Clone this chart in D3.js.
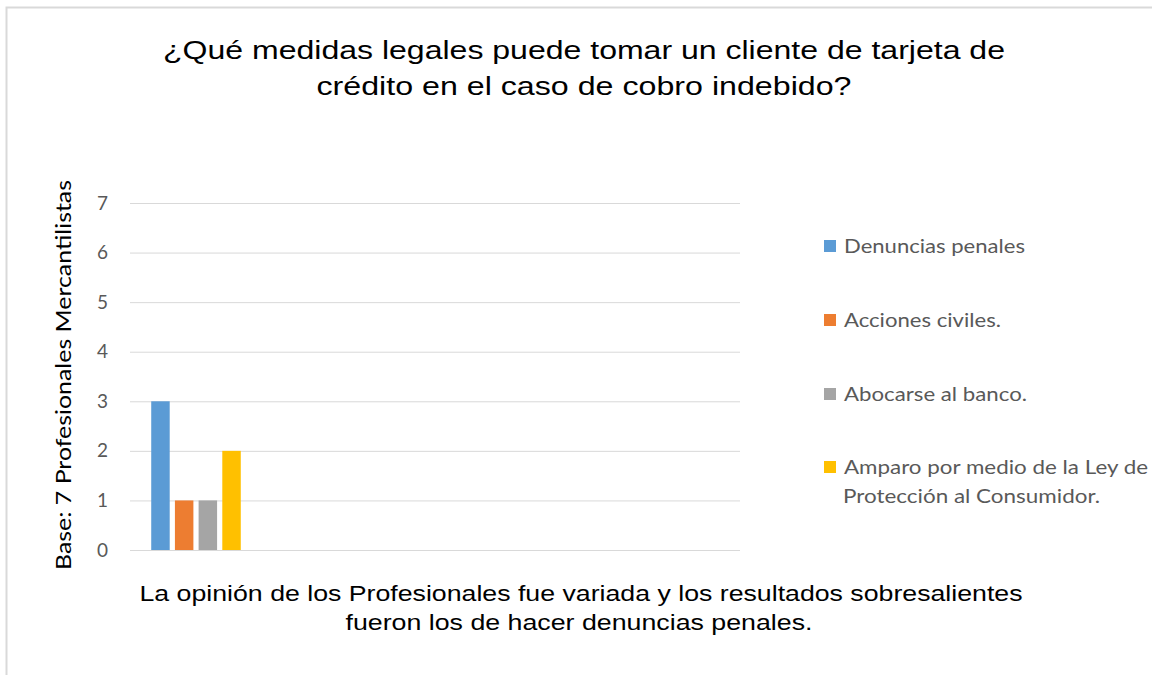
<!DOCTYPE html>
<html>
<head>
<meta charset="utf-8">
<script src="https://cdn.jsdelivr.net/npm/d3@7"></script>
<style>
  body { margin: 0; background: #fff; }
</style>
</head>
<body>
<div class="canvas"></div>
<script>
// data
const categories = ["Profesionales"];
const series = [
  "Denuncias penales",
  "Acciones civiles.",
  "Abocarse al banco.",
  "Amparo por medio de la Ley de Protección al Consumidor."
];
const values = [3, 1, 1, 2];
const yTicks = [0, 1, 2, 3, 4, 5, 6, 7];
const colors = ["#5b9bd5", "#ed7d31", "#a5a5a5", "#ffc000"];

// dimensions
const w = 1152;
const h = 675;
const plot = { left: 130, right: 740, top: 203, bottom: 550 };

const svg = d3.select(".canvas").append("svg").attr("width", w).attr("height", h);

// the source picture is stretched sideways, so text is fitted to measured widths
const fit = (sel, len) => sel.attr("textLength", len).attr("lengthAdjust", "spacingAndGlyphs");

// chart frame
svg.append("rect")
  .attr("x", 6.5).attr("y", 7.5)
  .attr("width", w + 10).attr("height", h)
  .attr("fill", "#fff")
  .attr("stroke", "#d9d9d9")
  .attr("stroke-width", 2);

// title
const title = svg.append("text")
  .attr("text-anchor", "middle")
  .style("font-family", "'Liberation Sans', Arial, sans-serif")
  .style("font-size", "25px")
  .attr("fill", "#000");
title.append("tspan").attr("x", 584).attr("y", 59).text("¿Qué medidas legales puede tomar un cliente de tarjeta de").call(fit, 842);
title.append("tspan").attr("x", 584).attr("y", 95).text("crédito en el caso de cobro indebido?").call(fit, 535);

// scales
const y = d3.scaleLinear().domain([0, 7]).range([plot.bottom, plot.top]);
const x0 = d3.scaleBand().domain(categories).range([plot.left, plot.left + 132]).paddingOuter(0.2);
const x1 = d3.scaleBand().domain(series).range([0, x0.bandwidth()]).paddingInner(0.22).paddingOuter(0.1);

// gridlines + tick labels
const yAxis = d3.axisLeft(y)
  .tickValues(yTicks)
  .tickFormat(d3.format("d"))
  .tickSize(-(plot.right - plot.left))
  .tickPadding(22);
const gy = svg.append("g")
  .attr("transform", `translate(${plot.left},0)`)
  .call(yAxis);
gy.select(".domain").remove();
gy.selectAll(".tick line").attr("stroke", "#d9d9d9").attr("stroke-width", 1);
gy.selectAll(".tick text")
  .attr("fill", "#595959")
  .style("font-family", "Lato, 'Open Sans', sans-serif")
  .style("font-size", "19px");

// bars
svg.append("g")
  .selectAll("rect")
  .data(series.map((s, i) => ({ s, v: values[i], c: colors[i] })))
  .enter()
  .append("rect")
  .attr("x", (d) => x0(categories[0]) + x1(d.s))
  .attr("y", (d) => y(d.v))
  .attr("width", x1.bandwidth())
  .attr("height", (d) => y(0) - y(d.v))
  .attr("fill", (d) => d.c);

// y axis title
svg.append("text")
  .attr("transform", `translate(71, ${(180 + 570) / 2}) rotate(-90)`)
  .attr("text-anchor", "middle")
  .style("font-family", "Lato, 'Open Sans', sans-serif")
  .style("font-size", "21px")
  .attr("fill", "#000")
  .text("Base: 7 Profesionales Mercantilistas")
  .call(fit, 390);

// legend
const legendY = [246, 320, 394, 467];
const legendW = [181, 157, 183, 304];
const legend = svg.append("g")
  .selectAll("g")
  .data(series)
  .enter()
  .append("g")
  .attr("transform", (d, i) => `translate(824, ${legendY[i]})`);
legend.append("rect")
  .attr("x", 0).attr("y", -6)
  .attr("width", 12).attr("height", 12)
  .attr("fill", (d, i) => colors[i]);
const lt = legend.append("text")
  .attr("x", 20).attr("y", 7)
  .style("font-family", "Lato, 'Open Sans', sans-serif")
  .style("font-size", "19px")
  .attr("fill", "#595959");
lt.each(function (d, i) {
  const t = d3.select(this);
  if (d.startsWith("Amparo")) {
    t.append("tspan").attr("x", 20).text("Amparo por medio de la Ley de").call(fit, legendW[i]);
    t.append("tspan").attr("x", 19).attr("dy", 29).text("Protección al Consumidor.").call(fit, 257);
  } else {
    t.text(d).call(fit, legendW[i]);
  }
});

// bottom caption
const cap = svg.append("text")
  .attr("text-anchor", "middle")
  .style("font-family", "'Liberation Sans', Arial, sans-serif")
  .style("font-size", "22px")
  .attr("fill", "#000");
cap.append("tspan").attr("x", 581).attr("y", 601).text("La opinión de los Profesionales fue variada y los resultados sobresalientes").call(fit, 883);
cap.append("tspan").attr("x", 579).attr("y", 630).text("fueron los de hacer denuncias penales.").call(fit, 467);
</script>
</body>
</html>
